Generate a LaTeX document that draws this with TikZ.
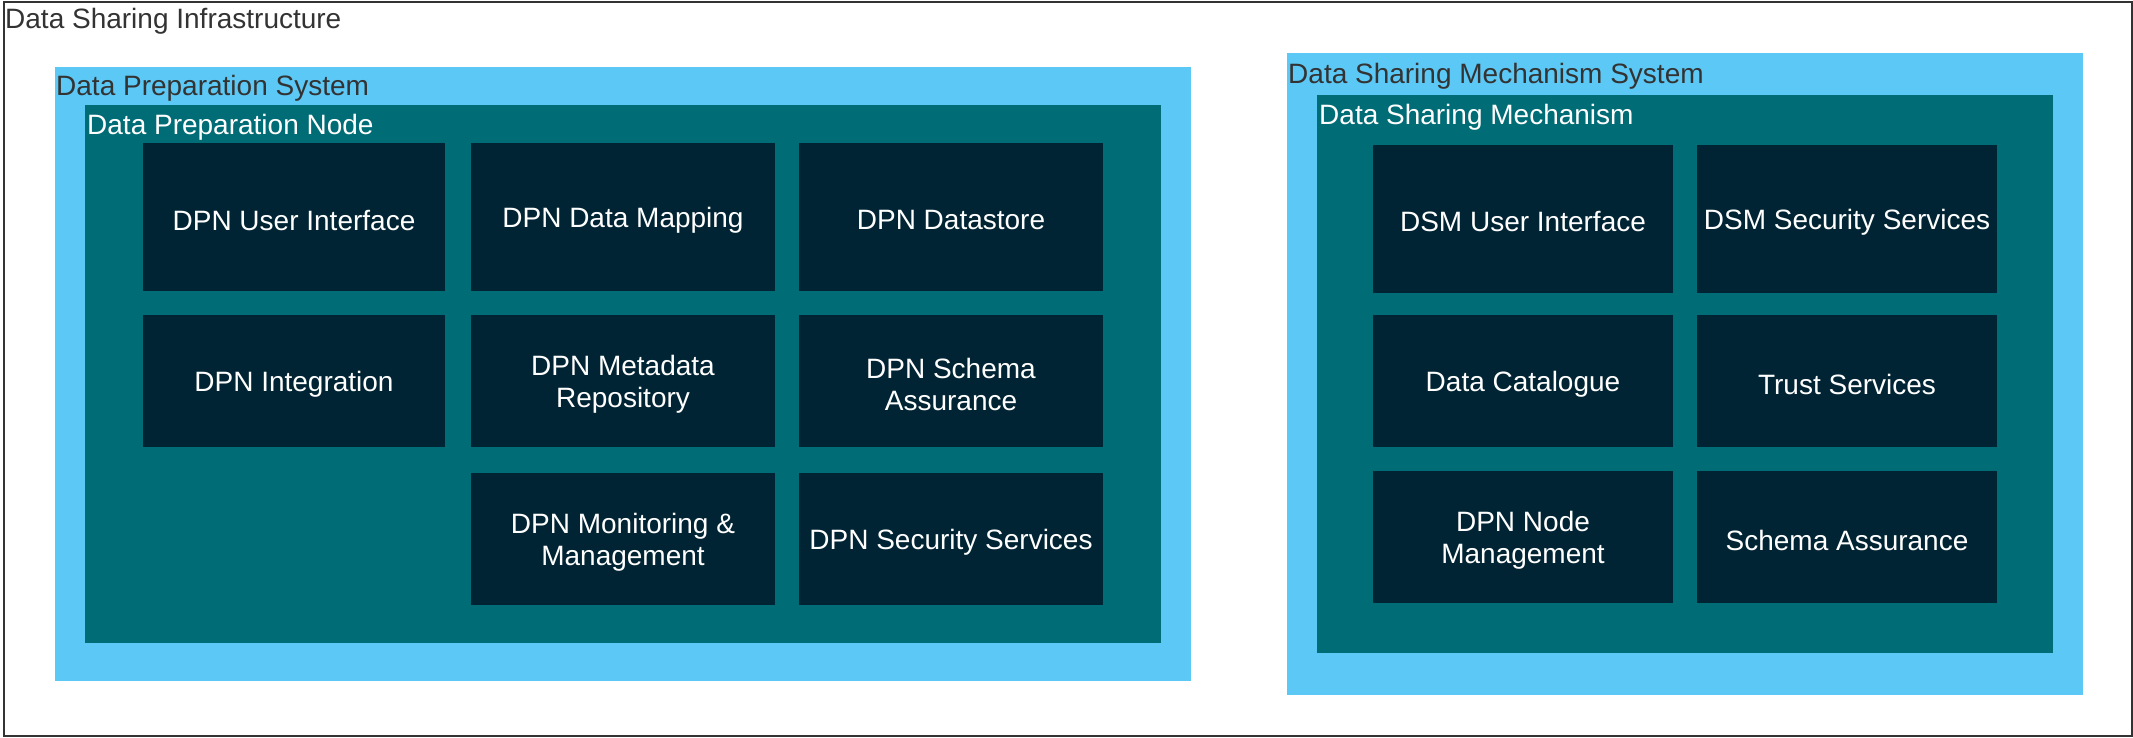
\documentclass[tikz,border=0pt]{standalone}
\usepackage{fontspec}
\setmainfont{Liberation Sans}
\definecolor{skyfill}{HTML}{5BC8F5}
\definecolor{tealfill}{HTML}{006C75}
\definecolor{navyfill}{HTML}{002433}
\definecolor{inkgray}{HTML}{333333}
\tikzset{
  sysbox/.style={rectangle, fill=skyfill, draw=none, inner sep=0pt, outer sep=0pt, anchor=north west},
  nodebox/.style={rectangle, fill=tealfill, draw=none, inner sep=0pt, outer sep=0pt, anchor=north west},
  compbox/.style={rectangle, fill=navyfill, draw=none, inner sep=0pt, outer sep=0pt},
  comptext/.style={inner sep=0pt, text=white, align=center, font=\fontsize{28}{32}\selectfont},
  darklabel/.style={anchor=base west, inner sep=0pt, text=inkgray, font=\fontsize{28}{32}\selectfont},
  lightlabel/.style={anchor=base west, inner sep=0pt, text=white, font=\fontsize{28}{32}\selectfont},
}
\newcommand{\comp}[6]{% name, x1, y1, x2, y2, text
  \node[compbox, minimum width={(#4-#2)*1pt}, minimum height={(#5-#3)*1pt}]
    (#1) at ({(#2+#4)/2}, {(#3+#5)/2}) {};
  \node[comptext] (#1-text) at ([yshift=-3pt]#1.center) {#6};}
\begin{document}
\begin{tikzpicture}[x=1pt, y=-1pt]
\useasboundingbox (0,0) rectangle (2133,737);
% outer frame
\node[rectangle, draw=inkgray, line width=2pt, inner sep=0pt, anchor=north west,
  minimum width=2128pt, minimum height=734pt] (infra) at (3,1) {};
\node[darklabel] (infralbl) at (5,28) {Data Sharing Infrastructure};

% Data Preparation System
\node[sysbox, minimum width=1136pt, minimum height=614pt] (dps) at (55,67) {};
\node[darklabel] (dpslbl) at (56,95) {Data Preparation System};
\node[nodebox, minimum width=1076pt, minimum height=538pt] (dpn) at (85,105) {};
\node[lightlabel] (dpnlbl) at (87,134) {Data Preparation Node};

\comp{dpnui}{143}{143}{445}{291}{DPN User Interface}
\comp{dpnmap}{471}{143}{775}{291}{DPN Data Mapping}
\comp{dpnstore}{799}{143}{1103}{291}{DPN Datastore}
\comp{dpnint}{143}{315}{445}{447}{DPN Integration}
\comp{dpnmeta}{471}{315}{775}{447}{DPN Metadata\\Repository}
\comp{dpnschema}{799}{315}{1103}{447}{DPN Schema\\Assurance}
\comp{dpnmon}{471}{473}{775}{605}{DPN Monitoring \&\\Management}
\comp{dpnsec}{799}{473}{1103}{605}{DPN Security Services}

% Data Sharing Mechanism System
\node[sysbox, minimum width=796pt, minimum height=642pt] (dsms) at (1287,53) {};
\node[darklabel] (dsmslbl) at (1288,83) {Data Sharing Mechanism System};
\node[nodebox, minimum width=736pt, minimum height=558pt] (dsm) at (1317,95) {};
\node[lightlabel] (dsmlbl) at (1319,124) {Data Sharing Mechanism};

\comp{dsmui}{1373}{145}{1673}{293}{DSM User Interface}
\comp{dsmsec}{1697}{145}{1997}{293}{DSM Security Services}
\comp{dcat}{1373}{315}{1673}{447}{Data Catalogue}
\comp{trust}{1697}{315}{1997}{447}{Trust Services}
\comp{nodemgmt}{1373}{471}{1673}{603}{DPN Node\\Management}
\comp{schema}{1697}{471}{1997}{603}{Schema Assurance}
\end{tikzpicture}
\end{document}
